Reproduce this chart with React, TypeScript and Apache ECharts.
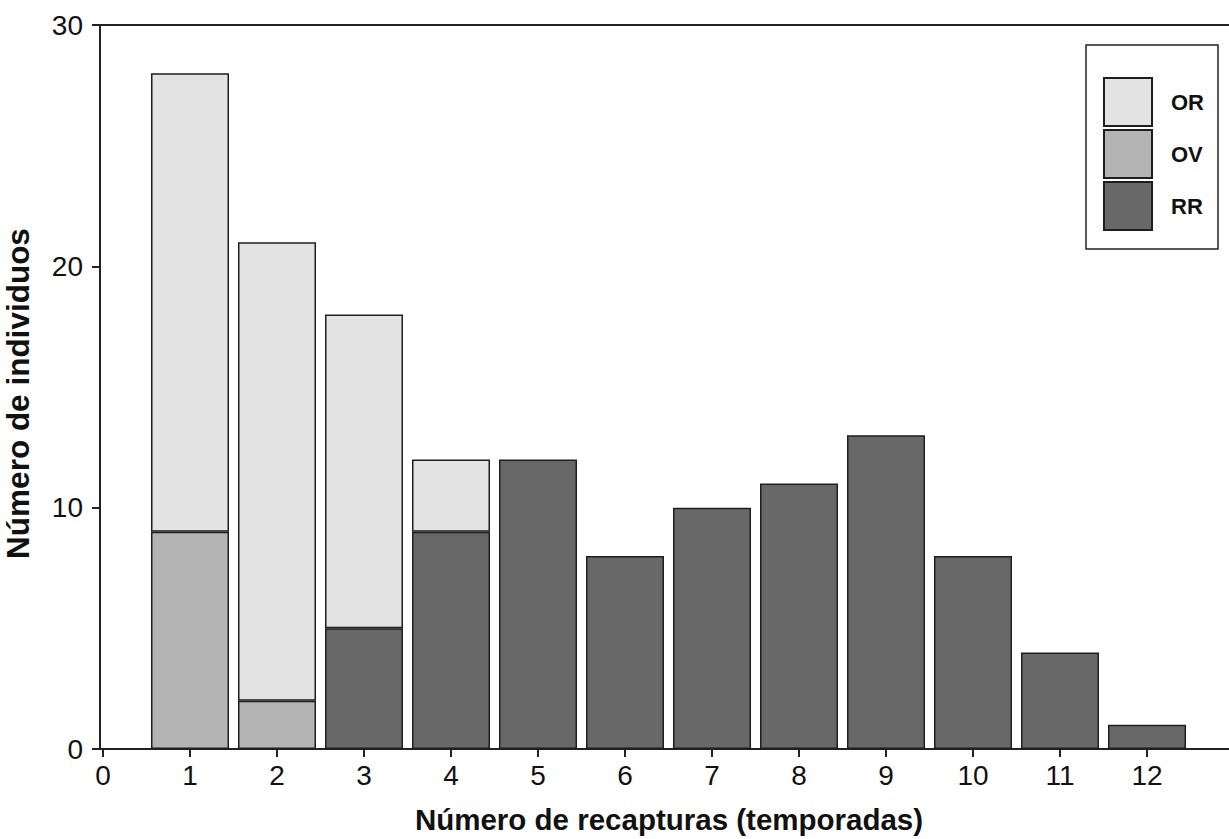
import React, { useEffect, useRef } from "react";
import * as echarts from "echarts";

// Number of recaptures (seasons)
const recapturas = [1, 2, 3, 4, 5, 6, 7, 8, 9, 10, 11, 12];
// Stack order bottom -> top: RR, OV, OR (null = no segment)
const rrValues: (number | null)[] = [null, null, 5, 9, 12, 8, 10, 11, 13, 8, 4, 1];
const ovValues: (number | null)[] = [9, 2, null, null, null, null, null, null, null, null, null, null];
const orValues: (number | null)[] = [19, 19, 13, 3, null, null, null, null, null, null, null, null];
const xTickLabels = ["0", "1", "2", "3", "4", "5", "6", "7", "8", "9", "10", "11", "12"];
const legendOrder = ["OR", "OV", "RR"];

const FONT = "'Liberation Sans', Arial, Helvetica, sans-serif";
const AXIS_COLOR = "#222222";
const BORDER = "#1e1e1e";

// map values onto the 0..12 category ticks
const toCategoryData = (vals: (number | null)[]) =>
  xTickLabels.map((lab) => {
    const i = recapturas.indexOf(Number(lab));
    return i >= 0 && vals[i] != null ? vals[i] : "-";
  });

export default function App() {
  const ref = useRef<HTMLDivElement>(null);

  useEffect(() => {
    if (!ref.current) return;
    const chart = echarts.init(ref.current, undefined, { renderer: "svg" });

    const makeSeries = (name: string, vals: (number | null)[], color: string) => ({
      name,
      type: "bar",
      stack: "total",
      xAxisIndex: 0,
      yAxisIndex: 0,
      barWidth: 78,
      silent: true,
      itemStyle: { color, borderColor: BORDER, borderWidth: 1.5 },
      emphasis: { disabled: true },
      data: toCategoryData(vals),
    });

    const titleStyle = (size: number) => ({
      fontFamily: FONT,
      fontSize: size,
      fontWeight: "bold",
      color: "#111111",
    });

    chart.setOption({
      animation: false,
      backgroundColor: "#ffffff",
      textStyle: { fontFamily: FONT },
      grid: [
        // data grid: category 0 at x=103, 12 at x=1147
        { left: 103, right: 82, top: 25, bottom: 90, containLabel: false, outerBoundsMode: "none" },
        // frame grid: axis lines from x=100 to the right edge
        { left: 100, right: 0, top: 25, bottom: 90, containLabel: false, outerBoundsMode: "none" },
      ],
      legend: {
        orient: "vertical",
        left: 1086,
        top: 45,
        data: legendOrder,
        itemWidth: 48,
        itemHeight: 48,
        itemGap: 2,
        padding: [32, 14, 18, 17],
        borderColor: AXIS_COLOR,
        borderWidth: 1.5,
        backgroundColor: "#ffffff",
        selectedMode: false,
        icon: "rect",
        textStyle: {
          fontFamily: FONT,
          fontSize: 22,
          fontWeight: "bold",
          color: "#111111",
          padding: [0, 0, 0, 14],
        },
      },
      xAxis: [
        {
          type: "category",
          gridIndex: 0,
          data: xTickLabels,
          boundaryGap: false,
          position: "bottom",
          axisLine: { show: false },
          axisTick: {
            show: true,
            length: 8,
            interval: 0,
            lineStyle: { color: AXIS_COLOR, width: 2 },
          },
          axisLabel: {
            show: true,
            interval: 0,
            margin: 12,
            fontFamily: FONT,
            fontSize: 28,
            color: "#111111",
          },
          splitLine: { show: false },
        },
        {
          type: "value",
          gridIndex: 1,
          min: 0,
          max: 1,
          position: "bottom",
          name: "Número de recapturas (temporadas)",
          nameLocation: "middle",
          nameGap: 55,
          nameTextStyle: { ...titleStyle(29.5), padding: [0, 0, 0, 9] },
          axisLine: { show: true, onZero: false, lineStyle: { color: AXIS_COLOR, width: 2 } },
          axisTick: { show: false },
          axisLabel: { show: false },
          splitLine: { show: false },
        },
        {
          type: "value",
          gridIndex: 1,
          min: 0,
          max: 1,
          position: "top",
          axisLine: { show: true, onZero: false, lineStyle: { color: AXIS_COLOR, width: 2 } },
          axisTick: { show: false },
          axisLabel: { show: false },
          splitLine: { show: false },
        },
      ],
      yAxis: [
        {
          type: "value",
          gridIndex: 0,
          min: 0,
          max: 30,
          interval: 10,
          show: false,
        },
        {
          type: "value",
          gridIndex: 1,
          min: 0,
          max: 30,
          interval: 10,
          position: "left",
          name: "Número de individuos",
          nameLocation: "middle",
          nameGap: 66,
          nameRotate: 90,
          nameTextStyle: { ...titleStyle(31.5), padding: [0, 13, 0, 0] },
          axisLine: { show: true, onZero: false, lineStyle: { color: AXIS_COLOR, width: 2 } },
          axisTick: { show: true, length: 8, lineStyle: { color: AXIS_COLOR, width: 2 } },
          axisLabel: {
            margin: 17,
            fontFamily: FONT,
            fontSize: 28,
            color: "#111111",
          },
          splitLine: { show: false },
        },
      ],
      series: [
        makeSeries("RR", rrValues, "#686868"),
        makeSeries("OV", ovValues, "#b4b4b4"),
        makeSeries("OR", orValues, "#e3e3e3"),
      ],
    });

    return () => {
      chart.dispose();
    };
  }, []);

  return (
    <div
      ref={ref}
      style={{ position: "absolute", left: 0, top: 0, width: 1229, height: 839 }}
    />
  );
}
